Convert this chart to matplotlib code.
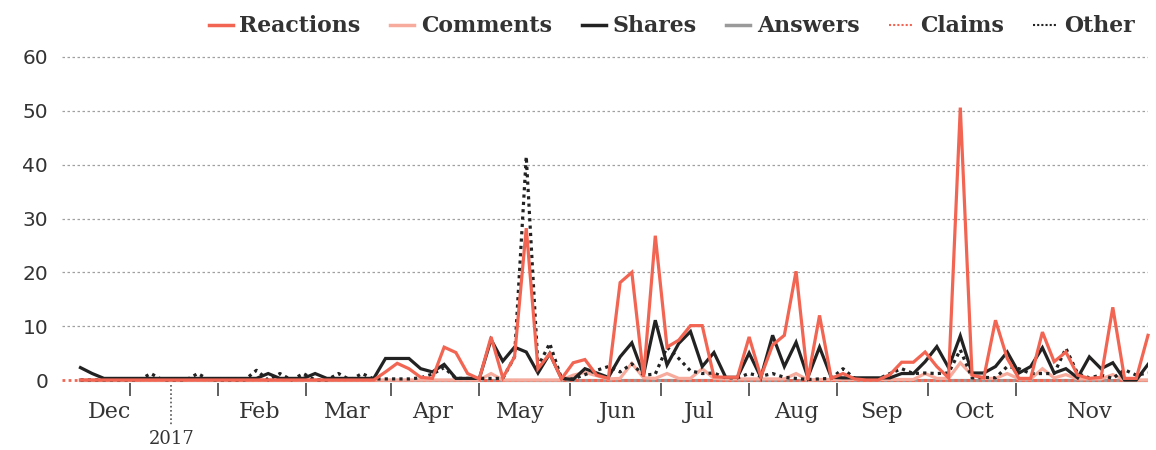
import numpy as np
import pandas as pd
import matplotlib
matplotlib.use("Agg")
import matplotlib.pyplot as plt
from matplotlib.lines import Line2D

# ---------------- data (one point every 4 days, Dec 1 2016 .. Nov 30 2017) ----------------
dates = pd.date_range("2016-12-01", periods=92, freq="4D")

reactions = [0, 0, 0, 0, 0, 0, 0, 0, 0, 0,
             0, 0, 0, 0, 0, 0, 0, 0, 0, 0,
             0, 0, 0, 0, 0, 0, 1.5, 3.1, 2.1, 0.5,
             0.3, 6.1, 5.1, 1.2, 0.2, 8.0, 0.4, 4.3, 28.2, 2.1,
             4.9, 0.2, 3.2, 3.8, 0.9, 0.3, 18.1, 20.0, 0.6, 26.8,
             6.1, 7.4, 10.1, 10.1, 0.6, 0.5, 0.5, 8.0, 0.6, 6.5,
             8.3, 20.2, 0, 12.0, 0.3, 1.2, 0.2, 0, 0, 1.0,
             3.3, 3.3, 5.2, 2.5, 0.4, 50.6, 0.9, 0.4, 11.1, 4.0,
             0.3, 0.3, 8.9, 3.4, 5.2, 0.9, 0.3, 0.5, 13.5, 0.3,
             0.3, 8.3]

comments = [0, 0, 0, 0, 0, 0, 0, 0, 0, 0,
            0, 0, 0, 0, 0, 0, 0, 0, 0, 0,
            0, 0, 0, 0, 0, 0, 0, 0, 0, 0,
            0, 0, 0, 0, 0, 1.2, 0, 0, 0, 0,
            0, 0, 0.9, 1.4, 0.8, 0.2, 0.3, 3.1, 0.4, 0.3,
            1.2, 0.3, 0.3, 2.1, 0.3, 0.2, 0.2, 0.2, 0.2, 0.2,
            0.2, 1.2, 0, 0.1, 0.1, 0.1, 0.1, 0.1, 0.1, 0.1,
            0.1, 0.1, 1.2, 0.3, 0.3, 3.2, 0.9, 0.3, 0.3, 1.2,
            0.2, 0.2, 2.1, 0.4, 1.0, 0.2, 0.2, 0.2, 1.0, 0,
            0, 0]

shares = [2.3, 1.2, 0.3, 0.3, 0.3, 0.3, 0.3, 0.3, 0.3, 0.3,
          0.3, 0.3, 0.3, 0.3, 0.3, 0.3, 1.2, 0.3, 0.3, 0.3,
          1.2, 0.3, 0.3, 0.3, 0.3, 0.3, 4.0, 4.0, 4.0, 2.1,
          1.5, 2.9, 0.3, 0.3, 0.3, 7.5, 3.5, 6.1, 5.2, 1.3,
          4.9, 0.3, 0.1, 2.1, 1.3, 0.5, 4.3, 6.9, 1.0, 11.1,
          2.8, 6.8, 9.0, 2.5, 5.1, 0.5, 0.5, 5.0, 0.5, 8.3,
          2.5, 7.0, 0.5, 6.1, 0.5, 0.4, 0.4, 0.4, 0.4, 0.4,
          1.2, 1.2, 3.4, 6.2, 2.3, 8.2, 1.3, 1.3, 2.5, 5.2,
          1.3, 2.5, 6.0, 1.3, 2.1, 0.4, 4.3, 2.1, 3.2, 0,
          0, 2.9]

answers = [0] * 92

claims = [0] * 92

other = [0, 0, 0, 0, 0, 0, 1.2, 0, 0, 0,
         1.2, 0, 0, 0, 0, 1.8, 0, 1.2, 0, 1.2,
         0, 0, 1.2, 0, 1.2, 0.2, 0.2, 0.2, 0.2, 0.4,
         1.1, 2.3, 0.3, 0.3, 0.3, 0.3, 0.3, 4.3, 41.5, 2.5,
         6.8, 0.3, 0.2, 1.0, 1.8, 2.5, 1.5, 3.0, 0.9, 1.1,
         6.1, 4.0, 1.7, 1.2, 1.3, 0.4, 0.4, 1.2, 0.7, 1.2,
         0.5, 0.3, 0.1, 0.2, 0.3, 2.1, 0.3, 0.2, 0.2, 1.2,
         2.1, 1.2, 1.3, 1.2, 1.3, 5.6, 0.4, 0.5, 0.4, 2.5,
         2.1, 1.2, 1.2, 1.2, 5.9, 1.2, 0.4, 0.9, 0.3, 1.9,
         0.9, 1.3]

series_names = ["Reactions", "Comments", "Shares", "Answers", "Claims", "Other"]

month_labels = ["Dec", "Feb", "Mar", "Apr", "May", "Jun", "Jul", "Aug", "Sep", "Oct", "Nov"]
month_label_dates = ["2016-12-11", "2017-01-31", "2017-03-02", "2017-03-31", "2017-04-30",
                     "2017-06-02", "2017-06-30", "2017-08-02", "2017-08-31", "2017-10-02",
                     "2017-11-10"]
tick_dates = ["2016-12-18", "2017-01-17", "2017-02-16", "2017-03-17", "2017-04-16",
              "2017-05-17", "2017-06-17", "2017-07-17", "2017-08-16", "2017-09-16",
              "2017-10-16"]
year_label = "2017"
year_date = "2017-01-01"
yticks = [0, 10, 20, 30, 40, 50, 60]

# ---------------- style ----------------
RED = "#f26552"
PINK = "#f6ab9c"
DARK = "#222222"
GRAY = "#9a9a9a"
TXT = "#333333"

W, H = 1156, 450
fig = plt.figure(figsize=(W / 100, H / 100), dpi=100)

# axes placement (pixel-derived)
ppu = 323 / 60.0
y0_px = 380
ylo, yhi = -0.6, 61.0
bottom_px = y0_px + (0 - ylo) * ppu
top_px = y0_px - yhi * ppu
left_px, right_px = 62, 1148
ax = fig.add_axes([left_px / W, (H - bottom_px) / H, (right_px - left_px) / W,
                   (bottom_px - top_px) / H])

t = pd.to_datetime(dates)
base = pd.Timestamp("2016-12-01")
ax.set_xlim(base - pd.Timedelta(days=6.3), base + pd.Timedelta(days=364.0))
ax.set_ylim(ylo, yhi)

lw = 2.3
# zero baseline (claims colour, dotted) across the whole plot width
ax.axhline(0, color=RED, lw=2.0, linestyle=(0, (1.0, 1.2)), zorder=2)
ax.plot(t, claims, color=RED, lw=2.0, linestyle=(0, (1.0, 1.2)), zorder=2, clip_on=False)
ax.plot(t, answers, color=GRAY, lw=lw, zorder=1, solid_joinstyle="miter")
ax.plot(t, comments, color=PINK, lw=lw, zorder=3, solid_joinstyle="miter")
ax.plot(t, other, color=DARK, lw=2.3, linestyle=(0, (1.0, 1.3)), zorder=4,
        dash_capstyle="butt")
ax.plot(t, shares, color=DARK, lw=lw, zorder=5, solid_joinstyle="miter")
ax.plot(t, reactions, color=RED, lw=lw, zorder=6, solid_joinstyle="miter", clip_on=False)

# grid
for v in yticks[1:]:
    ax.axhline(v, color="#a0a0a0", lw=0.9, linestyle=(0, (2.0, 2.0)), zorder=0)

for s in ax.spines.values():
    s.set_visible(False)

ax.set_yticks(yticks)
ax.set_yticklabels([str(v) for v in yticks], fontsize=14.5, color=TXT,
                   family="DejaVu Sans")
ax.tick_params(axis="y", length=0, pad=10)

ax.set_xticks(pd.to_datetime(tick_dates))
ax.set_xticklabels([])
ax.tick_params(axis="x", length=9, width=1.2, color="#444444", direction="out", pad=2)

for lab, d in zip(month_labels, month_label_dates):
    ax.text(pd.Timestamp(d), -0.055, lab, transform=ax.get_xaxis_transform(),
            ha="center", va="top", fontsize=16, color=TXT, family="DejaVu Serif")

# year marker
yd = pd.Timestamp(year_date)
ax.plot([yd, yd], [-0.005, -0.125], transform=ax.get_xaxis_transform(), color="#555555",
        lw=1.2, linestyle=(0, (1, 1.5)), clip_on=False)
ax.text(yd, -0.14, year_label, transform=ax.get_xaxis_transform(), ha="center", va="top",
        fontsize=13, color=TXT, family="DejaVu Serif")

# legend
handles = [
    Line2D([], [], color=RED, lw=2.5),
    Line2D([], [], color=PINK, lw=2.5),
    Line2D([], [], color=DARK, lw=2.5),
    Line2D([], [], color=GRAY, lw=2.5),
    Line2D([], [], color=RED, lw=1.5, linestyle=(0, (1, 1))),
    Line2D([], [], color=DARK, lw=1.5, linestyle=(0, (1, 1))),
]
leg = fig.legend(handles, series_names, loc="upper right", ncol=6,
                 bbox_to_anchor=(1150 / W, 1.0), frameon=False,
                 prop={"family": "DejaVu Serif", "weight": "bold", "size": 15.8},
                 handlelength=1.1, handletextpad=0.3, columnspacing=1.35,
                 borderaxespad=0.3)
for txt in leg.get_texts():
    txt.set_color(TXT)

fig.savefig("out.png", dpi=100)
